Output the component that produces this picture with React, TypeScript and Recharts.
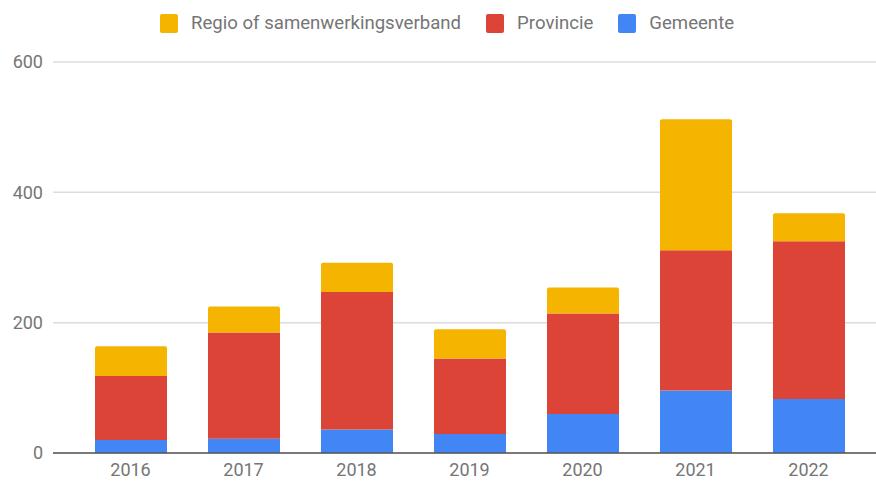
import React from 'react';
import { BarChart, Bar, XAxis, YAxis, CartesianGrid, Legend } from 'recharts';

const years = ['2016', '2017', '2018', '2019', '2020', '2021', '2022'];
const gemeente = [20, 22, 36, 29, 60, 96, 83];
const provincie = [98, 163, 211, 116, 154, 215, 242];
const regio = [46, 40, 45, 45, 40, 201, 43];
const yTicks = [0, 200, 400, 600];

const series = [
  { key: 'regio', name: 'Regio of samenwerkingsverband', color: '#F4B400' },
  { key: 'provincie', name: 'Provincie', color: '#DB4437' },
  { key: 'gemeente', name: 'Gemeente', color: '#4285F4' },
];

const data = years.map((year, i) => ({
  year,
  gemeente: gemeente[i],
  provincie: provincie[i],
  regio: regio[i],
}));

const font = 'Roboto, "Noto Sans", sans-serif';
const tick = { fill: '#757575', fontSize: 18, fontFamily: font };

const LegendBox = () => (
  <div style={{ display: 'flex', paddingLeft: 160, height: 20, fontFamily: font, fontSize: 18.6, color: '#757575' }}>
    {series.map((s) => (
      <div key={s.key} style={{ display: 'flex', alignItems: 'center', marginRight: 25 }}>
        <span style={{ width: 18, height: 19, borderRadius: 2, background: s.color, display: 'inline-block', marginRight: 13 }} />
        <span>{s.name}</span>
      </div>
    ))}
  </div>
);

export default function App() {
  return (
    <div style={{ position: 'absolute', left: 0, top: 0, background: '#fff' }}>
      <BarChart width={876} height={481} data={data} margin={{ top: 42, right: 0, bottom: 0, left: 0 }}>
        <CartesianGrid vertical={false} stroke="#dcdcdc" strokeWidth={1.5} />
        <XAxis
          dataKey="year"
          tick={tick}
          tickLine={false}
          tickSize={0}
          tickMargin={10}
          height={28}
          axisLine={{ stroke: '#555', strokeWidth: 1.5 }}
          padding={{ left: 21, right: 11 }}
        />
        <YAxis
          domain={[0, 600]}
          ticks={yTicks}
          tick={tick}
          tickLine={false}
          axisLine={false}
          tickSize={0}
          tickMargin={10}
          width={53}
        />
        <Legend
          verticalAlign="top"
          align="left"
          content={() => <LegendBox />}
          wrapperStyle={{ top: 13, left: 0, width: 876 }}
        />
        <Bar dataKey="gemeente" name="Gemeente" stackId="a" fill="#4285F4" barSize={72} isAnimationActive={false} />
        <Bar dataKey="provincie" name="Provincie" stackId="a" fill="#DB4437" barSize={72} isAnimationActive={false} />
        <Bar dataKey="regio" name="Regio of samenwerkingsverband" stackId="a" fill="#F4B400" barSize={72} radius={[2, 2, 0, 0]} isAnimationActive={false} />
      </BarChart>
    </div>
  );
}
